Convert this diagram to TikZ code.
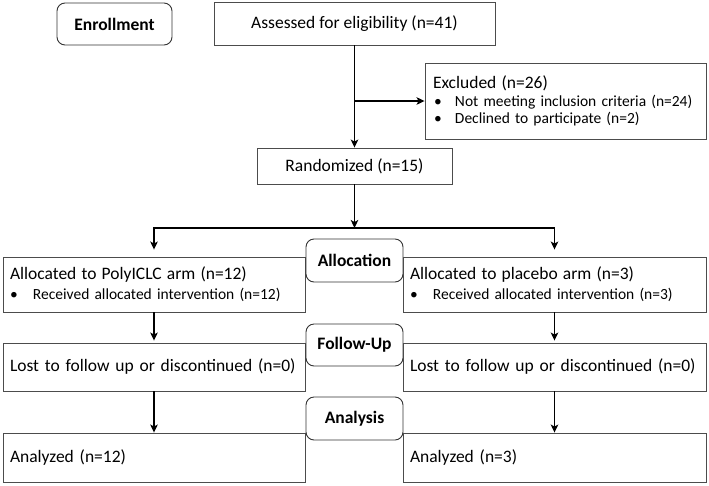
\documentclass[tikz,border=0pt]{standalone}
\usepackage{fontspec}
\setmainfont{Carlito}
\usetikzlibrary{arrows.meta,calc}
\tikzset{
  box/.style={draw=black!70, line width=0.9pt, inner xsep=7pt, inner ysep=0pt, align=left,
    font=\fontsize{17.5}{21}\selectfont},
  cbox/.style={draw=black!70, line width=0.9pt, inner sep=0pt, align=center,
    font=\fontsize{17.5}{21}\selectfont},
  stage/.style={draw=black!80, line width=0.9pt, rounded corners=8pt, inner sep=0pt, align=center,
    font=\bfseries\fontsize{17.5}{21}\selectfont},
  arr/.style={line width=1.9pt, -{Stealth[length=8pt,width=7.5pt,inset=2pt]}}
}
\newcommand{\bul}[1]{\makebox[#1][l]{\textbullet}}
\begin{document}
\begin{tikzpicture}[x=1pt,y=-1pt]
\useasboundingbox (0,0) rectangle (709,485);

\node[stage, minimum width=115pt, minimum height=42pt] (enroll) at (114.5,24) {Enrollment};
\node[cbox, minimum width=281pt, minimum height=43pt] (assess) at (354.5,23.5) {Assessed for eligibility (n=41)};
\node[box, inner xsep=8pt, text width=265pt, minimum height=76pt, font=\fontsize{15.5}{17.5}\selectfont] (excl) at (565.5,101)
  {{\fontsize{17.5}{21}\selectfont Excluded (n=26)}\\
   \hspace*{1pt}\bul{21pt}Not meeting inclusion criteria (n=24)\\
   \hspace*{1pt}\bul{21pt}Declined to participate (n=2)};
\node[cbox, minimum width=195pt, minimum height=36pt] (rand) at (354.5,166) {Randomized (n=15)};

\node[box, text width=288pt, minimum height=55pt, font=\fontsize{15.5}{20}\selectfont] (allocL) at (154,284.5)
  {{\fontsize{17.5}{21}\selectfont Allocated to PolyICLC arm (n=12)}\\
   \bul{23pt}Received allocated intervention (n=12)};
\node[stage, minimum width=97pt, minimum height=43pt] (allocS) at (354.5,260.5) {Allocation};
\node[box, text width=289pt, minimum height=55pt, font=\fontsize{15.5}{20}\selectfont] (allocR) at (554.5,284.5)
  {{\fontsize{17.5}{21}\selectfont Allocated to placebo arm (n=3)}\\
   \bul{23pt}Received allocated intervention (n=3)};

\node[box, text width=288pt, minimum height=48pt] (fuL) at (154,367) {Lost to follow up or discontinued (n=0)};
\node[stage, minimum width=97pt, minimum height=42pt] (fuS) at (354.5,345) {Follow-Up};
\node[box, text width=289pt, minimum height=48pt] (fuR) at (554.5,367) {Lost to follow up or discontinued (n=0)};

\node[box, text width=288pt, minimum height=49pt] (anL) at (154,457.5) {Analyzed (n=12)};
\node[stage, minimum width=97pt, minimum height=43pt] (anS) at (354.5,418.5) {Analysis};
\node[box, text width=289pt, minimum height=49pt] (anR) at (554.5,457.5) {Analyzed (n=3)};

% connectors
\draw[arr] (assess.south) -- (rand.north);
\draw[arr] (assess.south |- excl.west) -- (excl.west);
\coordinate (split) at (354.5,228);
\draw[arr] (rand.south) -- (split);
\draw[arr] (split) -| ([yshift=7pt]allocL.north);
\draw[arr] (split) -| ([yshift=7pt]allocR.north);
\draw[arr] (allocL.south) -- ([yshift=2pt]fuL.north);
\draw[arr] (allocR.south) -- ([yshift=2pt]fuR.north);
\draw[arr] (fuL.south) -- (anL.north);
\draw[arr] (fuR.south) -- (anR.north);
\end{tikzpicture}
\end{document}
